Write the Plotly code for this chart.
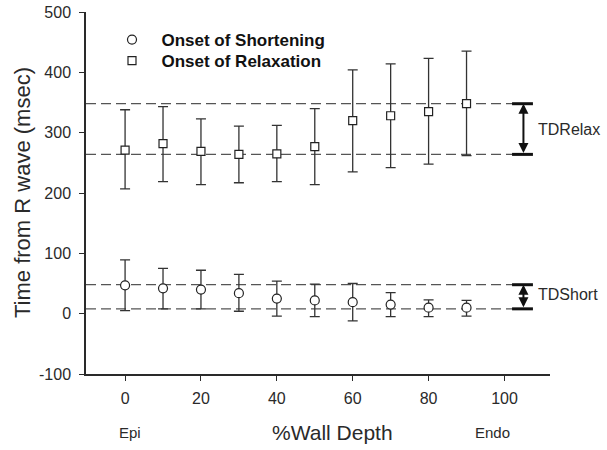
import plotly.graph_objects as go

# ---- data ----
depth = [0, 10, 20, 30, 40, 50, 60, 70, 80, 90]

relax_mean = [271, 282, 269, 264, 265, 277, 320, 328, 335, 348]
relax_hi = [338, 343, 323, 311, 312, 340, 404, 414, 423, 435]
relax_lo = [207, 219, 214, 217, 219, 214, 235, 242, 248, 262]

short_mean = [47, 42, 40, 34, 25, 22, 19, 15, 10, 10]
short_hi = [89, 75, 72, 65, 54, 49, 50, 35, 23, 22]
short_lo = [5, 8, 8, 4, -4, -5, -12, -5, -5, -4]

relax_levels = [264, 348]
short_levels = [8, 48]

x_ticks = [0, 20, 40, 60, 80, 100]
y_ticks = [-100, 0, 100, 200, 300, 400, 500]
y_tick_labels = ["-100", "0", "100", "200", "300", "400", "500"]

FONT = "Arial, Liberation Sans, sans-serif"
INK = "#2a2a2a"

fig = go.Figure()

# dashed reference lines
for lv in relax_levels + short_levels:
    fig.add_trace(go.Scatter(x=[-10.3, 107.5], y=[lv, lv], mode="lines",
                             line=dict(color="#555", width=1.2, dash="10px,5px"),
                             showlegend=False, hoverinfo="skip"))
# bracket ticks
for lv in relax_levels + short_levels:
    fig.add_trace(go.Scatter(x=[102, 107.5], y=[lv, lv], mode="lines",
                             line=dict(color="#111", width=3),
                             showlegend=False, hoverinfo="skip"))


def err(mean, hi, lo):
    up = [h - m for h, m in zip(hi, mean)]
    dn = [m - l for m, l in zip(mean, lo)]
    return dict(type="data", symmetric=False, array=up, arrayminus=dn,
                color="#333", thickness=1.3, width=5)


fig.add_trace(go.Scatter(x=depth, y=short_mean, mode="markers",
                         name="&nbsp;&nbsp;Onset of Shortening", legend="legend",
                         error_y=err(short_mean, short_hi, short_lo),
                         marker=dict(symbol="circle", size=9, color="white",
                                     line=dict(color="#222", width=1.2))))
fig.add_trace(go.Scatter(x=depth, y=relax_mean, mode="markers",
                         name="&nbsp;&nbsp;Onset of Relaxation", legend="legend2",
                         error_y=err(relax_mean, relax_hi, relax_lo),
                         marker=dict(symbol="square", size=8, color="white",
                                     line=dict(color="#222", width=1.2))))

# double arrows
for lv in (relax_levels, short_levels):
    fig.add_annotation(x=105, y=lv[1], ax=105, ay=lv[0], xref="x", yref="y",
                       axref="x", ayref="y", text="", showarrow=True,
                       arrowhead=2, startarrowhead=2, arrowside="end+start",
                       arrowwidth=2, arrowcolor="#111", standoff=0, startstandoff=0)

fig.add_annotation(x=108.3, y=sum(relax_levels) / 2, xref="x", yref="y", text="TDRelax",
                   showarrow=False, xanchor="left", font=dict(size=16, color=INK, family=FONT))
fig.add_annotation(x=108.3, y=sum(short_levels) / 2 + 3, xref="x", yref="y", text="TDShort",
                   showarrow=False, xanchor="left", font=dict(size=16, color=INK, family=FONT))

# plot area: page x 86-550, y 12-374
W = 464.0
H = 362.0
yb = -(432 - 374) / H
fig.add_annotation(x=(130 - 86) / W, y=yb, xref="paper", yref="paper", xanchor="center",
                   yanchor="middle", text="Epi", showarrow=False,
                   font=dict(size=15, color=INK, family=FONT))
fig.add_annotation(x=(492 - 86) / W, y=yb, xref="paper", yref="paper", xanchor="center",
                   yanchor="middle", text="Endo", showarrow=False,
                   font=dict(size=15, color=INK, family=FONT))
fig.add_annotation(x=(332 - 86) / W, y=yb, xref="paper", yref="paper", xanchor="center",
                   yanchor="middle", text="%Wall Depth", showarrow=False,
                   font=dict(size=21, color=INK, family=FONT))
fig.add_annotation(x=-(86 - 22) / W, y=0.5, xref="paper", yref="paper", xanchor="center",
                   yanchor="middle", textangle=-90, text="Time from R wave (msec)",
                   showarrow=False, font=dict(size=22, color=INK, family=FONT))

leg_font = dict(size=17, color="#111", family=FONT, weight="bold")
fig.update_layout(
    width=607, height=450,
    margin=dict(l=86, r=57, t=12, b=76),
    paper_bgcolor="white", plot_bgcolor="white",
    font=dict(family=FONT, color=INK),
    showlegend=True,
    legend=dict(x=(112 - 86) / W, y=1 - (22 - 12) / H, xanchor="left", yanchor="top",
                bgcolor="rgba(0,0,0,0)", font=leg_font, itemwidth=30),
    legend2=dict(x=(112 - 86) / W, y=1 - (43 - 12) / H, xanchor="left", yanchor="top",
                 bgcolor="rgba(0,0,0,0)", font=leg_font, itemwidth=30),
    xaxis=dict(range=[-10.3, 112], tickvals=x_ticks, ticks="outside", ticklen=5,
               tickwidth=1.3, tickcolor=INK, showline=True, linecolor=INK, linewidth=1.5,
               showgrid=False, zeroline=False, tickfont=dict(size=16, color=INK),
               ticklabelstandoff=4, automargin=False),
    yaxis=dict(range=[-100, 500], tickvals=y_ticks, ticktext=y_tick_labels,
               ticks="outside", ticklen=5,
               tickwidth=1.3, tickcolor=INK, showline=True, linecolor=INK, linewidth=1.5,
               showgrid=False, zeroline=False, tickfont=dict(size=16, color=INK),
               ticklabelstandoff=5, automargin=False),
)

fig.write_html("out.html", config={"displayModeBar": False},
               post_script="document.body.style.margin='0';")
